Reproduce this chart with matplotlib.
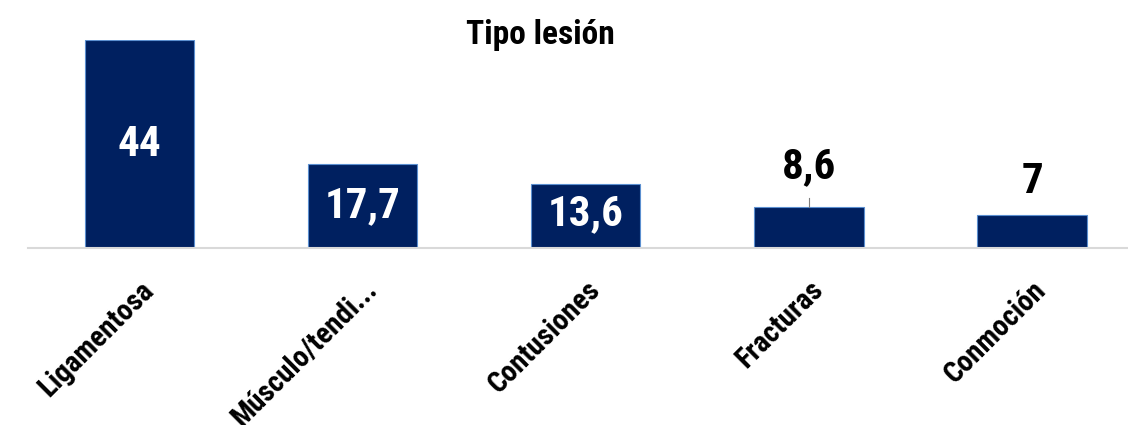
import matplotlib.pyplot as plt
from matplotlib import font_manager

categorias = ['Ligamentosa', 'Músculo/tendi...', 'Contusiones', 'Fracturas', 'Conmoción']
valores = [44, 17.7, 13.6, 8.6, 7]
etiquetas = ['44', '17,7', '13,6', '8,6', '7']
dentro = [True, True, True, False, False]
# altura del texto (en unidades de datos) para las etiquetas de fuera
pos_fuera = [None, None, None, 17.1, 14.0]


def buscar_fuente():
    # una fuente estrecha y gruesa, parecida a Impact
    for fam, stretch in [('Liberation Sans Narrow', 'condensed'), ('Roboto Condensed', 'normal'),
                         ('DejaVu Sans', 'condensed')]:
        fp = font_manager.FontProperties(family=fam, weight='heavy', stretch=stretch)
        try:
            ruta = font_manager.findfont(fp, fallback_to_default=False)
        except ValueError:
            continue
        if 'Narrow' in ruta or 'Condensed' in ruta:
            return font_manager.FontProperties(fname=ruta)
    return font_manager.FontProperties(family='DejaVu Sans', weight='bold')


fuente = buscar_fuente()


def fp(size):
    f = fuente.copy()
    f.set_size(size)
    f.set_weight('bold')
    return f


fig = plt.figure(figsize=(11.28, 4.25), dpi=100)
ax = fig.add_axes([28 / 1128, 1 - 248 / 425, 1 - 28 / 1128, (248 - 40) / 425])

x = range(len(categorias))
ax.bar(x, valores, width=0.49, color='#002060', edgecolor='#5b8fd0', linewidth=0.8)
ax.set_xlim(-0.5, 4.43)
ax.set_ylim(0, 44)

for i, v in enumerate(valores):
    if dentro[i]:
        y = v / 2 + (0.4 if i == 2 else 0)
        ax.text(i, y, etiquetas[i], ha='center', va='center', color='white', fontproperties=fp(31))
    else:
        ax.text(i, pos_fuera[i], etiquetas[i], ha='center', va='center', color='black',
                fontproperties=fp(31))
        if i == 3:
            ax.plot([i, i], [v, v + 2], color='#7f7f7f', lw=0.8)

ax.set_xticks(list(x))
ax.set_xticklabels(categorias, rotation=45, ha='right', rotation_mode='anchor', fontproperties=fp(21))
ax.tick_params(axis='x', length=0, pad=20)
ax.set_yticks([])
for s in ['top', 'right', 'left']:
    ax.spines[s].set_visible(False)
ax.spines['bottom'].set_color('#d9d9d9')
ax.spines['bottom'].set_linewidth(1.5)

fig.text(540 / 1128, 1 - 35 / 425, 'Tipo lesión', ha='center', va='center', fontproperties=fp(24))

fig.savefig('out.png', dpi=100)
